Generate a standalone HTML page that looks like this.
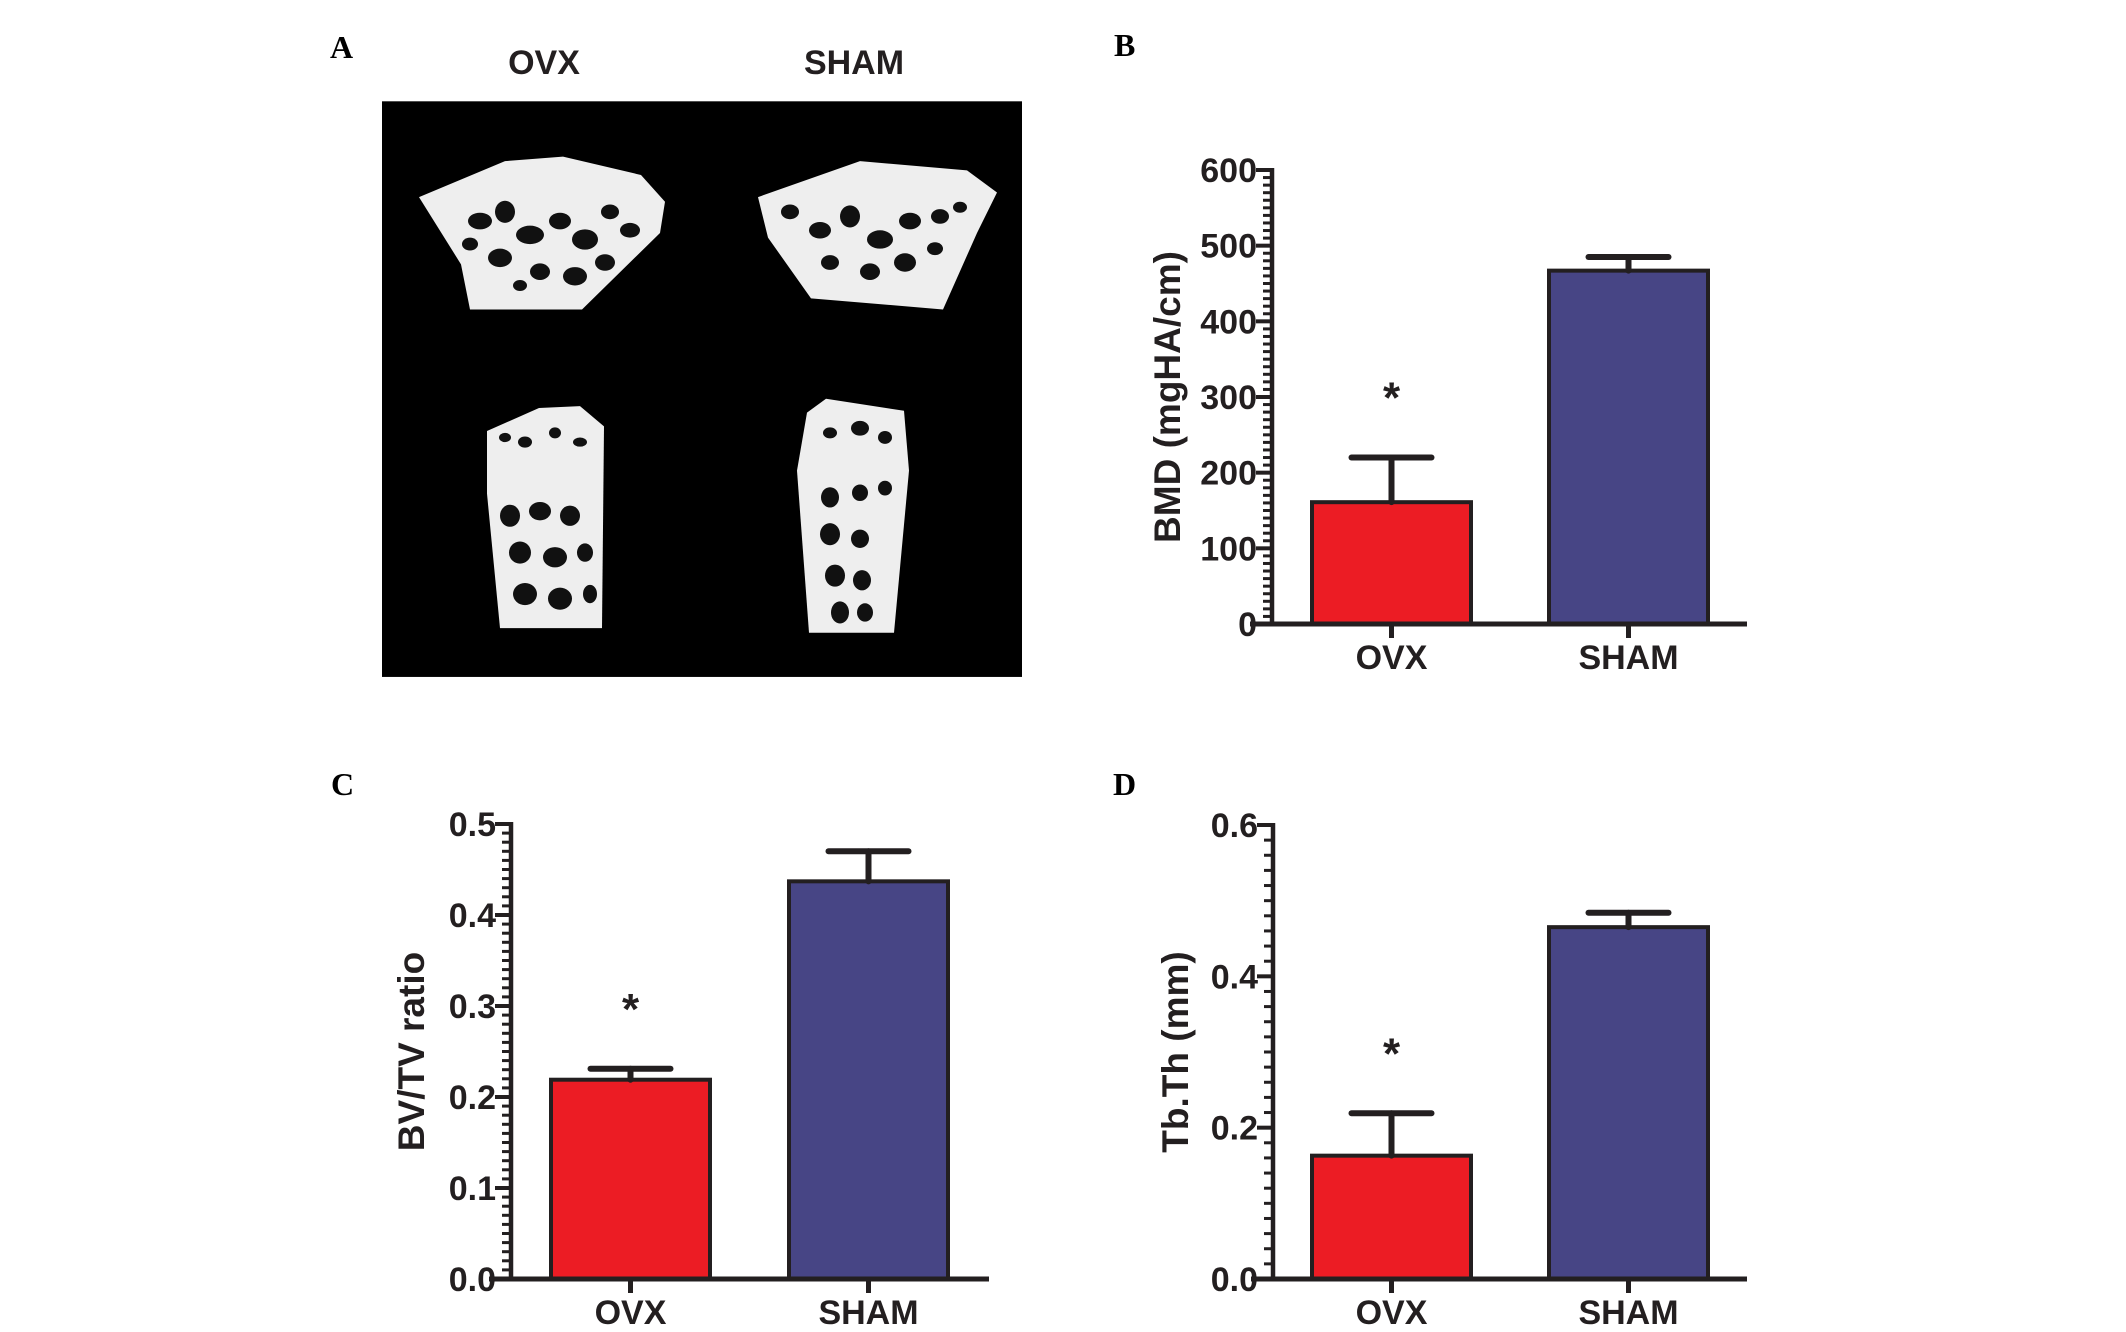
<!DOCTYPE html>
<html><head><meta charset="utf-8"><style>
html,body{margin:0;padding:0;background:#fff;}
svg{display:block;}
text{font-family:"Liberation Sans",Arial,sans-serif;font-weight:bold;fill:#231f20;}
.pl{font-family:"Liberation Serif",serif;font-weight:bold;fill:#000;}
</style></head><body>
<svg id="fig" width="2126" height="1332" viewBox="0 0 2126 1332" xmlns="http://www.w3.org/2000/svg">
<text class="pl" x="330" y="58" font-size="32">A</text>
<text class="pl" x="1114" y="56" font-size="32">B</text>
<text class="pl" x="331" y="795" font-size="32">C</text>
<text class="pl" x="1113" y="795" font-size="32">D</text>
<text x="544" y="74" font-size="34" text-anchor="middle">OVX</text>
<text x="854" y="74" font-size="34" text-anchor="middle">SHAM</text>
<g transform="scale(1,0.921)">
<rect x="382" y="110" width="640" height="625" fill="#000"/>
<polygon points="419,214 505,175 563,170 641,190 665,219 660,253 582,336 470,336 461,287" fill="#eee"/>
<polygon points="758,214 860,175 967,185 997,209 977,253 943,336 811,324 768,258" fill="#eee"/>
<polygon points="487,468 539,443 580,441 604,463 602,682 500,682 487,536" fill="#eee"/>
<polygon points="807,448 826,433 904,446 909,511 894,687 809,687 797,511" fill="#eee"/>
<g id="holes" fill="#111"></g>
</g>
<g id="charts"></g>
</svg>
<script>
// ----- chart data -----
const categories = ["OVX", "SHAM"];
const bmdValues = [161, 467];
const bmdErrors = [59, 18];
const bmdTicks = [0, 100, 200, 300, 400, 500, 600];
const bvtvValues = [0.219, 0.437];
const bvtvErrors = [0.012, 0.033];
const bvtvTicks = ["0.0", "0.1", "0.2", "0.3", "0.4", "0.5"];
const tbthValues = [0.163, 0.465];
const tbthErrors = [0.056, 0.019];
const tbthTicks = ["0.0", "0.2", "0.4", "0.6"];
const significant = [true, false];

const NS = "http://www.w3.org/2000/svg";
const charts = document.getElementById("charts");
function mk(tag, attrs, parent) {
  const e = document.createElementNS(NS, tag);
  for (const k in attrs) e.setAttribute(k, attrs[k]);
  (parent || charts).appendChild(e);
  return e;
}
const colors = ["#ec1c24", "#474585"];

function chart(cfg) {
  const g = mk("g", {});
  
  
  const ticks = cfg.ticks.map(Number);
  const yMax = ticks[ticks.length - 1];
  const y = v => cfg.y0 - (v / yMax) * (cfg.y0 - cfg.yTop);
  const xs = cfg.barX;
  cfg.values.forEach((v, i) => {
    const r = mk("rect", {x: xs[i], y: y(v), width: cfg.barW, height: cfg.y0 - y(v), fill: colors[i], stroke: "#231f20", "stroke-width": 4}, g);
    
    
    const cx = xs[i] + cfg.barW / 2;
    const eb = mk("g", {stroke: "#231f20", "stroke-width": 6, "stroke-linecap": "round"}, g);
    
    
    mk("line", {x1: cx, x2: cx, y1: y(v), y2: y(v + cfg.errors[i])}, eb);
    mk("line", {x1: cx - 40, x2: cx + 40, y1: y(v + cfg.errors[i]), y2: y(v + cfg.errors[i])}, eb);
    if (significant[i]) {
      const s = mk("text", {x: cx, y: y(v + cfg.errors[i]) - 45, "font-size": 44, "text-anchor": "middle", "font-weight": "normal"}, g);
      s.textContent = "*";
      
      
    }
    mk("line", {x1: cx, x2: cx, y1: cfg.y0, y2: cfg.y0 + 14, stroke: "#231f20", "stroke-width": 5}, g);
    const t = mk("text", {x: cx, y: cfg.y0 + 45, "font-size": 34, "text-anchor": "middle"}, g);
    t.textContent = categories[i];
    
    
  });
  const ax = mk("g", {stroke: "#231f20"}, g);
  
  
  mk("line", {x1: cfg.axX, x2: cfg.axX, y1: cfg.yTop - 2, y2: cfg.y0, "stroke-width": 4.5}, ax);
  for (let k = 0; k <= cfg.minorN; k++) {
    const yy = y(yMax * k / cfg.minorN);
    mk("line", {x1: cfg.axX - 9, x2: cfg.axX, y1: yy, y2: yy, "stroke-width": 3}, ax);
  }
  const xa = mk("line", {x1: cfg.axX - 22, x2: cfg.axEnd, y1: cfg.y0, y2: cfg.y0, stroke: "#231f20", "stroke-width": 5}, g);
  
  
  cfg.ticks.forEach((tl) => {
    const yy = y(Number(tl));
    mk("line", {x1: cfg.axX - 16, x2: cfg.axX, y1: yy, y2: yy, stroke: "#231f20", "stroke-width": 4}, g);
    const t = mk("text", {x: cfg.axX - 15, y: yy + 12, "font-size": 34, "text-anchor": "end"}, g);
    t.textContent = tl;
    
    
  });
  const yt = mk("text", {x: 0, y: 0, "font-size": 37, "text-anchor": "middle", transform: `translate(${cfg.titleX},${(cfg.yTop + cfg.y0) / 2}) rotate(-90)`}, g);
  yt.textContent = cfg.title;
  
  
}

chart({name: "chart-bmd", values: bmdValues, errors: bmdErrors, ticks: bmdTicks, axX: 1272, axEnd: 1747, yTop: 170, y0: 624, barX: [1312, 1549], barW: 159, minorN: 60, title: "BMD (mgHA/cm)", titleX: 1180});
chart({name: "chart-bvtv", values: bvtvValues, errors: bvtvErrors, ticks: bvtvTicks, axX: 511, axEnd: 989, yTop: 824, y0: 1279, barX: [551, 789], barW: 159, minorN: 50, title: "BV/TV ratio", titleX: 424});
chart({name: "chart-tbth", values: tbthValues, errors: tbthErrors, ticks: tbthTicks, axX: 1273, axEnd: 1747, yTop: 825, y0: 1279, barX: [1312, 1549], barW: 159, minorN: 30, title: "Tb.Th (mm)", titleX: 1188});

const holes = document.getElementById("holes");
const H = [[480,240,12,9],[505,230,10,12],[530,255,14,10],[560,240,11,9],[585,260,13,11],[610,230,9,8],[630,250,10,8],[500,280,12,10],[540,295,10,9],[575,300,12,10],[605,285,10,9],[470,265,8,7],[520,310,7,6],
[790,230,9,8],[820,250,11,9],[850,235,10,12],[880,260,13,10],[910,240,11,9],[940,235,9,8],[960,225,7,6],[830,285,9,8],[870,295,10,9],[905,285,11,10],[935,270,8,7],
[505,475,6,5],[525,480,7,6],[555,470,6,6],[580,480,7,5],[510,560,10,12],[540,555,11,10],[570,560,10,11],[520,600,11,12],[555,605,12,11],[585,600,8,10],[525,645,12,12],[560,650,12,12],[590,645,7,10],
[830,470,7,6],[860,465,9,8],[885,475,7,7],[830,540,9,11],[860,535,8,9],[885,530,7,8],[830,580,10,12],[860,585,9,10],[835,625,10,12],[862,630,9,11],[840,665,9,12],[865,665,8,10]];
H.forEach(h => mk("ellipse", {cx: h[0], cy: h[1], rx: h[2], ry: h[3]}, holes));
</script>
</body></html>
